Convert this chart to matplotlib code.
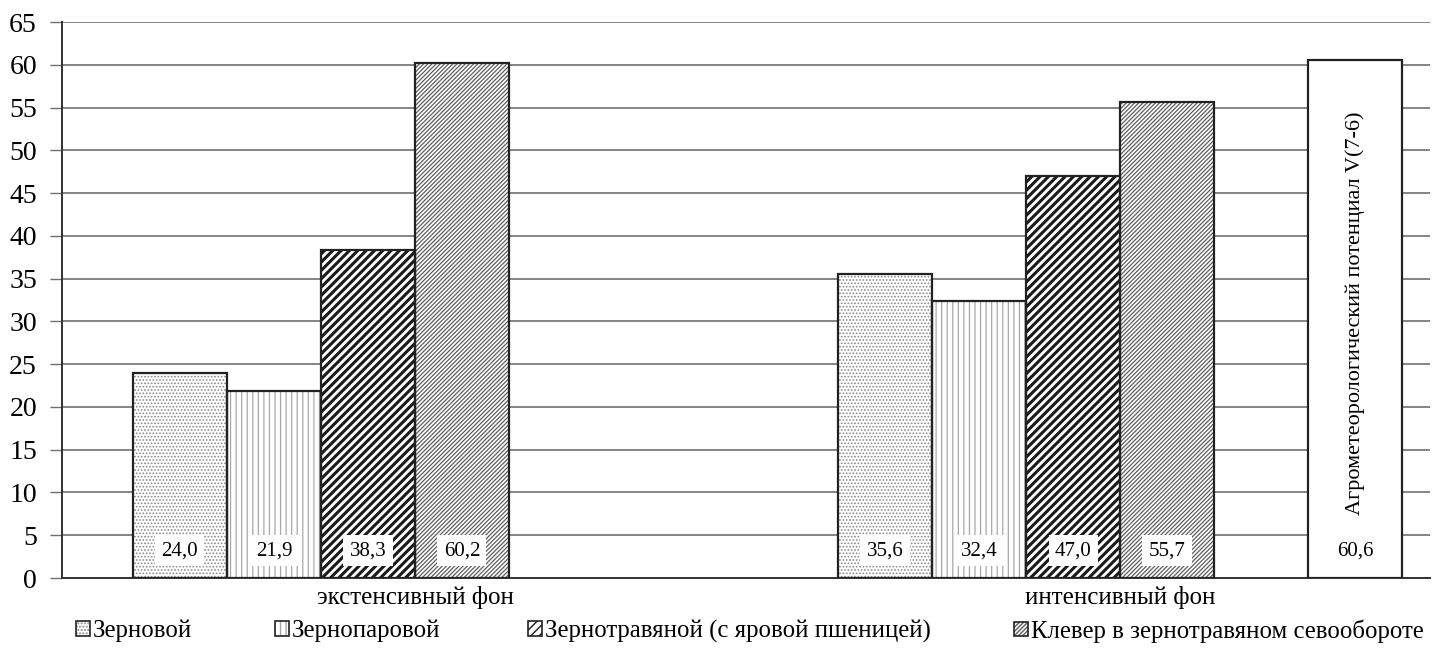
import numpy as np
import matplotlib
matplotlib.use("Agg")
import matplotlib.pyplot as plt
from matplotlib.patches import Patch

plt.rcParams['font.family'] = ['Liberation Serif', 'DejaVu Serif']

# данные по фонам
categories = ['экстенсивный фон', 'интенсивный фон']
series_names = ['Зерновой', 'Зернопаровой', 'Зернотравяной (с яровой пшеницей)',
                'Клевер в зернотравяном севообороте']
values = [
    [24.0, 35.6],   # Зерновой
    [21.9, 32.4],   # Зернопаровой
    [38.3, 47.0],   # Зернотравяной
    [60.2, 55.7],   # Клевер
]
potential_name = 'Агрометеорологический потенциал V(7-6)'
potential_value = 60.6
yticks = np.arange(0, 70, 5)

# оформление рядов: штриховка, цвет штриховки, толщина линий
styles = [
    dict(hatch='.....', color='#8a8a8a', lw=0.8),
    dict(hatch='|||', color='#a8a8a8', lw=0.9),
    dict(hatch='////', color='#1a1a1a', lw=2.2),
    dict(hatch='////////', color='#5e5e5e', lw=0.9),
]
edge = '#222222'


def fmt(v):
    return f'{v:.1f}'.replace('.', ',')


def hatched_bar(ax, x, h, st, width=1.0):
    with plt.rc_context({'hatch.linewidth': st['lw']}):
        bars = ax.bar(x, h, width, color='white', edgecolor=st['color'],
                      hatch=st['hatch'], linewidth=0, zorder=2)
    for b in bars:
        if hasattr(b, 'set_hatch_linewidth'):
            b.set_hatch_linewidth(st['lw'])
    ax.bar(x, h, width, fill=False, edgecolor=edge, linewidth=1.6, zorder=3)
    return bars


fig = plt.figure(figsize=(14.37, 6.48), dpi=100)
ax = fig.add_axes([0.0431, 0.108, 0.952, 0.858])

centers = np.array([2.755, 10.255])
offsets = [-1.5, -0.5, 0.5, 1.5]
label_y = 3.2

for i, (vals, st) in enumerate(zip(values, styles)):
    xs = centers + offsets[i]
    hatched_bar(ax, xs, vals, st)
    for x, v in zip(xs, vals):
        ax.text(x, label_y, fmt(v), ha='center', va='center', fontsize=15,
                zorder=5, bbox=dict(boxstyle='square,pad=0.3', fc='white', ec='none'))

# отдельный столбец потенциала
xp = centers[1] + 3.5
ax.bar(xp, potential_value, 1.0, color='white', edgecolor=edge, linewidth=1.6, zorder=3)
ax.text(xp, label_y, fmt(potential_value), ha='center', va='center', fontsize=15, zorder=5)
ax.text(xp, 31.0, potential_name, rotation=90, ha='center', va='center',
        fontsize=16, zorder=5)

ax.set_xlim(0, 14.55)
ax.set_ylim(0, 65)
ax.set_yticks(yticks)
ax.set_yticklabels([str(t) for t in yticks], fontsize=20)
ax.yaxis.grid(True, color='#707070', linewidth=1.2, zorder=0)
ax.set_axisbelow(True)
ax.tick_params(axis='y', length=9, width=1, color='#707070', pad=9)
ax.set_xticks(centers + 1.0)
ax.set_xticklabels(categories, fontsize=18)
ax.tick_params(axis='x', length=0, pad=6)
for s in ['top', 'right']:
    ax.spines[s].set_visible(False)
for s in ['left', 'bottom']:
    ax.spines[s].set_color('#333333')
    ax.spines[s].set_linewidth(1.4)

# легенда: каждый элемент отдельно
leg_x = [76 / 1437, 275 / 1437, 528 / 1437, 1014 / 1437]
for name, st, lx in zip(series_names, styles, leg_x):
    with plt.rc_context({'hatch.linewidth': st['lw'] * 0.6}):
        hp = Patch(facecolor='white', edgecolor=st['color'], hatch=st['hatch'], linewidth=0)
    op = Patch(fill=False, edgecolor=edge, linewidth=1.2)
    fig.legend([(hp, op)], [name], loc='center left', bbox_to_anchor=(lx, 1 - 631 / 648),
               frameon=False, fontsize=17.8, handlelength=0.55, handleheight=0.55,
               handletextpad=0.12, borderpad=0, borderaxespad=0)

fig.savefig('out.png', dpi=100)
